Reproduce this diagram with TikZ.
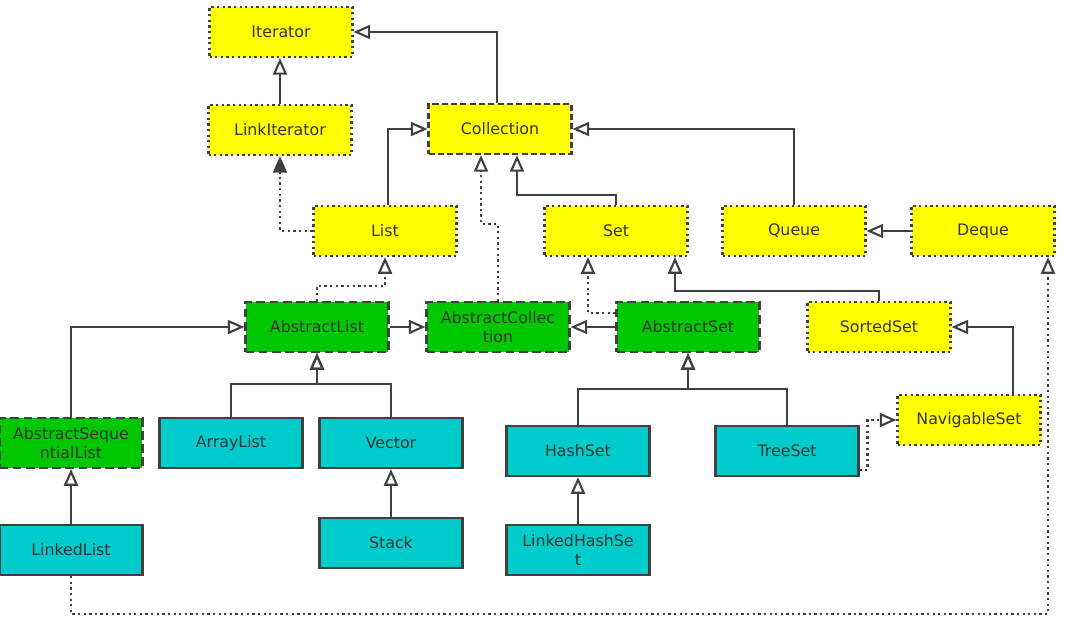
\documentclass[tikz,border=0pt]{standalone}
\usepackage{fontspec}
\setmainfont{DejaVu Sans}
\usetikzlibrary{arrows.meta}
\definecolor{ifyellow}{HTML}{FFFF00}
\definecolor{absgreen}{HTML}{00C800}
\definecolor{clscyan}{HTML}{00CCCC}
\definecolor{edgegray}{HTML}{404040}

\begin{document}
\begin{tikzpicture}[x=0.02cm, y=-0.02cm,
    box/.style={draw=edgegray, line width=1.2pt, minimum width=2.86cm, minimum height=1cm,
      align=center, font=\fontsize{9}{11}\selectfont, text=black!80, inner sep=1pt},
    iface/.style={box, fill=ifyellow, dash pattern=on 1.3pt off 1.9pt},
    absbox/.style={box, fill=absgreen, dash pattern=on 5pt off 2.5pt},
    cls/.style={box, fill=clscyan},
    inh/.style={draw=edgegray, line width=1.2pt, -{Triangle[open, length=9.5pt, width=8pt]}},
    impl/.style={inh, dash pattern=on 1.3pt off 1.9pt},
    uses/.style={draw=edgegray, line width=1.2pt, dash pattern=on 1.3pt off 1.9pt,
      -{Triangle[length=9.5pt, width=8pt]}}]
    \useasboundingbox (0,0) rectangle (1071,630);

    % interfaces
    \node[iface] (iter) at (281,32) {Iterator};
    \node[iface] (linkit) at (280,130) {LinkIterator};
    \node[iface, dash pattern=on 3.5pt off 1.8pt] (coll) at (500,129) {Collection};
    \node[iface] (list) at (385,231) {List};
    \node[iface] (set) at (616,231) {Set};
    \node[iface] (queue) at (794,231) {Queue};
    \node[iface] (deque) at (983,231) {Deque};
    \node[iface] (sorted) at (879,327) {SortedSet};
    \node[iface] (nav) at (969,420) {NavigableSet};

    % abstract classes
    \node[absbox] (absl) at (317,327) {AbstractList};
    \node[absbox] (abscoll) at (498,327) {AbstractCollec\\tion};
    \node[absbox] (abss) at (688,327) {AbstractSet};
    \node[absbox] (asl) at (71,443) {AbstractSeque\\ntialList};

    % classes
    \node[cls] (alist) at (231,443) {ArrayList};
    \node[cls] (vector) at (391,443) {Vector};
    \node[cls] (hset) at (578,451) {HashSet};
    \node[cls] (tset) at (787,451) {TreeSet};
    \node[cls] (llist) at (71,550) {LinkedList};
    \node[cls] (stack) at (391,543) {Stack};
    \node[cls] (lhset) at (578,550) {LinkedHashSe\\t};

    \draw[inh] ([xshift=-0.06cm]coll.north) |- (iter.east);
    \draw[inh] (linkit.north) -- (linkit.north |- iter.south);
    \draw[inh] ([xshift=0.06cm]list.north) |- (coll.west);
    \draw[uses] (list.west) -| (linkit.south);
    \draw[inh] (set.north) |- ++(0,-10) -| ([xshift=0.34cm]coll.south);
    \draw[inh] (queue.north) |- (coll.east);
    \draw[inh] (deque) -- (queue);
    \draw[impl] (abscoll.north) |- ++(0,-77) -| ([xshift=-0.38cm]coll.south);
    \draw[impl] (absl.north) |- ++(0,-15) -| (list.south);
    \draw[inh] (absl) -- (abscoll);
    \draw[inh] (abss) -- (abscoll);
    \draw[impl] ([yshift=0.28cm]abss.west) -| ([xshift=-0.56cm]set.south);
    \draw[inh] (sorted.north) |- ++(0,-10) -| ([xshift=1.18cm]set.south);
    \draw[inh] ([xshift=0.88cm]nav.north) |- (sorted.east);
    \draw[inh] (asl.north) |- (absl.west);
    \draw[inh] (alist.north) |- ++(0,-33) -| (absl.south);
    \draw[inh] (vector.north) |- ++(0,-33) -| (absl.south);
    \draw[inh] (stack) -- (vector);
    \draw[inh] (llist) -- (asl);
    \draw[inh] (hset.north) |- ++(0,-36) -| (abss.south);
    \draw[inh] (tset.north) |- ++(0,-36) -| (abss.south);
    \draw[inh] (lhset) -- (hset);
    \draw[impl] ([yshift=-0.38cm]tset.east) -- ++(8,0) |- (nav.west);
    \draw[impl] (llist.south) |- ++(0,38) -| ([xshift=1.3cm]deque.south);
\end{tikzpicture}
\end{document}
